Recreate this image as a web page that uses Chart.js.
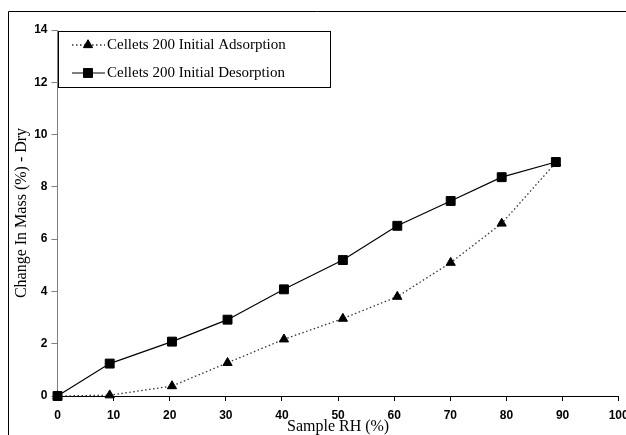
<!DOCTYPE html>
<html>
<head>
<meta charset="utf-8">
<script src="https://cdn.jsdelivr.net/npm/chart.js@4/dist/chart.umd.min.js"></script>
<style>
html,body{margin:0;padding:0;background:#fff;}
#wrap{width:626px;height:435px;position:relative;}
</style>
</head>
<body>
<div id="wrap"><canvas id="c" width="626" height="435"></canvas></div>
<script>
const sampleRH = [0, 9.3, 20.4, 30.3, 40.35, 50.85, 60.55, 70.06, 79.15, 88.8];
const adsorption = [0, 0.03, 0.38, 1.27, 2.17, 2.96, 3.80, 5.10, 6.60, 8.93];
const desorption = [0, 1.24, 2.08, 2.92, 4.08, 5.20, 6.51, 7.46, 8.37, 8.95];
const seriesNames = ['Cellets 200 Initial Adsorption', 'Cellets 200 Initial Desorption'];
const xTicks = [0, 10, 20, 30, 40, 50, 60, 70, 80, 90, 100];
const yTicks = [0, 2, 4, 6, 8, 10, 12, 14];
const xTitle = 'Sample RH (%)';
const yTitle = 'Change In Mass (%) - Dry';

const toPts = (ys) => sampleRH.map((x, i) => ({x: x, y: ys[i]}));

const frameAndLegend = {
  id: 'frameAndLegend',
  beforeDraw(chart) {
    const ctx = chart.ctx;
    ctx.save();
    ctx.fillStyle = '#fff';
    ctx.fillRect(0, 0, chart.width, chart.height);
    ctx.strokeStyle = '#000';
    ctx.lineWidth = 1;
    ctx.beginPath();
    ctx.moveTo(8.5, chart.height + 5);
    ctx.lineTo(8.5, 11.5);
    ctx.lineTo(chart.width + 5, 11.5);
    ctx.stroke();
    ctx.restore();
  },
  afterDraw(chart) {
    const ctx = chart.ctx;
    const x0 = 58.5, y0 = 31.5, w = 272, h = 56;
    ctx.save();
    ctx.fillStyle = '#fff';
    ctx.fillRect(x0, y0, w, h);
    ctx.strokeStyle = '#000';
    ctx.lineWidth = 1;
    ctx.strokeRect(x0, y0, w, h);
    const rows = [45, 73];
    chart.data.datasets.forEach((ds, i) => {
      const y = rows[i];
      ctx.save();
      ctx.strokeStyle = ds.borderColor;
      ctx.lineWidth = ds.borderWidth;
      ctx.setLineDash(ds.borderDash || []);
      ctx.beginPath();
      ctx.moveTo(72, y);
      ctx.lineTo(105, y);
      ctx.stroke();
      ctx.restore();
      ctx.save();
      ctx.fillStyle = ds.pointBackgroundColor;
      ctx.strokeStyle = ds.pointBorderColor;
      ctx.lineWidth = 1;
      ctx.setLineDash([]);
      Chart.helpers.drawPoint(ctx, {pointStyle: ds.pointStyle, radius: ds.pointRadius, borderWidth: 1, rotation: 0}, 88, y);
      ctx.restore();
      ctx.fillStyle = '#000';
      ctx.font = '15px "Liberation Serif", "Times New Roman", serif';
      ctx.textBaseline = 'middle';
      ctx.textAlign = 'left';
      ctx.fillText(ds.label, 107, y);
    });
    ctx.restore();
  }
};

const tickFont = {family: '"Liberation Sans", Arial, sans-serif', size: 12, weight: 'bold'};
const titleFont = {family: '"Liberation Serif", "Times New Roman", serif', size: 16, lineHeight: 1};

new Chart(document.getElementById('c'), {
  type: 'scatter',
  data: {
    datasets: [
      {
        label: seriesNames[0],
        data: toPts(adsorption),
        showLine: true,
        borderColor: '#333',
        backgroundColor: '#000',
        borderWidth: 1.3,
        borderDash: [1.5, 2.5],
        pointStyle: 'triangle',
        pointRadius: 5.3,
        pointBackgroundColor: '#000',
        pointBorderColor: '#000',
        pointBorderWidth: 1,
        clip: false
      },
      {
        label: seriesNames[1],
        data: toPts(desorption),
        showLine: true,
        borderColor: '#000',
        backgroundColor: '#000',
        borderWidth: 1.2,
        pointStyle: 'rect',
        pointRadius: 6.3,
        pointBackgroundColor: '#000',
        pointBorderColor: '#000',
        pointBorderWidth: 1,
        clip: false
      }
    ]
  },
  options: {
    responsive: false,
    animation: false,
    devicePixelRatio: 1,
    layout: {padding: {left: 0, top: 30, right: 5, bottom: 0}},
    plugins: {legend: {display: false}, tooltip: {enabled: false}},
    scales: {
      x: {
        type: 'linear',
        min: 0, max: 100,
        afterBuildTicks: (s) => { s.ticks = xTicks.map(v => ({value: v})); },
        afterFit: (s) => { s.height = 39; s.paddingLeft = 0; s.paddingRight = 0; },
        border: {color: '#000', width: 1},
        grid: {drawOnChartArea: false, drawTicks: true, tickLength: 5, color: '#000'},
        ticks: {font: tickFont, color: '#000', padding: 7, maxRotation: 0, autoSkip: false},
        title: {display: true, text: xTitle, font: titleFont, color: '#000', padding: {top: 0, bottom: 0}}
      },
      y: {
        type: 'linear',
        min: 0, max: 14,
        afterBuildTicks: (s) => { s.ticks = yTicks.map(v => ({value: v})); },
        afterFit: (s) => { s.width = 57.5; },
        border: {color: '#808080', width: 1},
        grid: {drawOnChartArea: false, drawTicks: true, tickLength: 6, color: '#808080'},
        ticks: {font: tickFont, color: '#000', padding: 4, autoSkip: false},
        title: {display: true, text: yTitle, font: titleFont, color: '#000', padding: {top: 14, bottom: 0}}
      }
    }
  },
  plugins: [frameAndLegend]
});
</script>
</body>
</html>
